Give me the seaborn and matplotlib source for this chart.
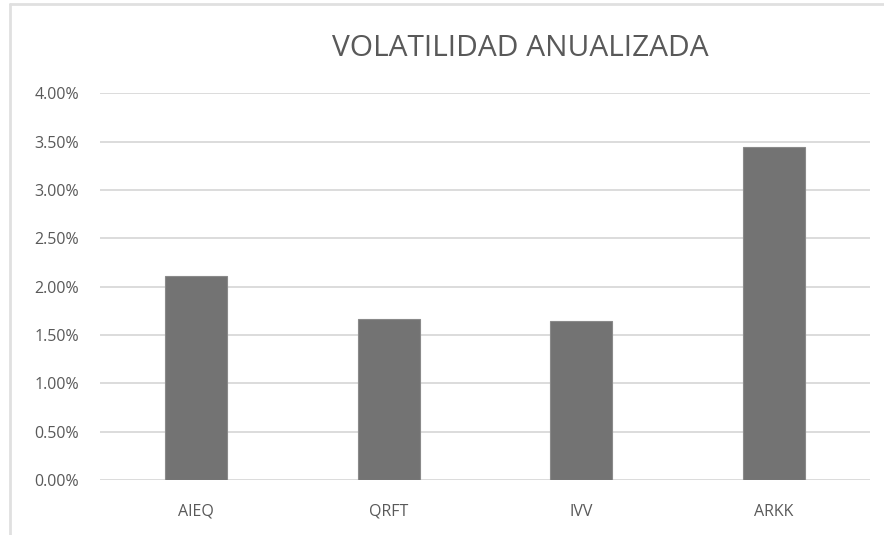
import matplotlib
matplotlib.use("Agg")
import matplotlib.pyplot as plt
import seaborn as sns
import pandas as pd
from matplotlib.lines import Line2D
from matplotlib.ticker import FuncFormatter, MultipleLocator

categories = ["AIEQ", "QRFT", "IVV", "ARKK"]
volatility = [2.11, 1.67, 1.645, 3.44]  # percent
title = "VOLATILIDAD ANUALIZADA"

sns.set_theme(style="white")
plt.rcParams["font.family"] = ["Open Sans", "DejaVu Sans"]

df = pd.DataFrame({"ticker": categories, "vol": volatility})

fig = plt.figure(figsize=(8.84, 5.35), dpi=100)
ax = fig.add_axes([100 / 884, 55 / 535, 770 / 884, (480 - 93.3) / 535])

sns.barplot(data=df, x="ticker", y="vol", color="#737373", width=0.32,
            saturation=1, edgecolor="#8a8a8a", linewidth=0.8, ax=ax, zorder=3)

ax.set_ylim(0, 4.0)
ax.set_xlim(-0.5, 3.5)
ax.yaxis.set_major_locator(MultipleLocator(0.5))
ax.yaxis.set_major_formatter(FuncFormatter(lambda v, p: f"{v:.2f}%"))
ax.grid(axis="y", color="#d9d9d9", linewidth=1.3, zorder=0)
ax.set_axisbelow(True)
for s in ax.spines.values():
    s.set_visible(False)
ax.set_xlabel("")
ax.set_ylabel("")
ax.tick_params(axis="y", length=0, pad=15, labelsize=11.5, labelcolor="#595959")
ax.tick_params(axis="x", length=0, pad=17, labelsize=11.5, labelcolor="#595959")

fig.text(520 / 884, 1 - 49 / 535, title, ha="center", va="center",
         fontsize=21.5, color="#595959")

# chart border (top and left visible)
fig.add_artist(Line2D([10 / 884, 1], [1 - 4 / 535, 1 - 4 / 535],
                      transform=fig.transFigure, color="#e0e0e0", linewidth=2))
fig.add_artist(Line2D([10 / 884, 10 / 884], [1 - 4 / 535, 0],
                      transform=fig.transFigure, color="#e0e0e0", linewidth=2))

fig.savefig("out.png", dpi=100)
